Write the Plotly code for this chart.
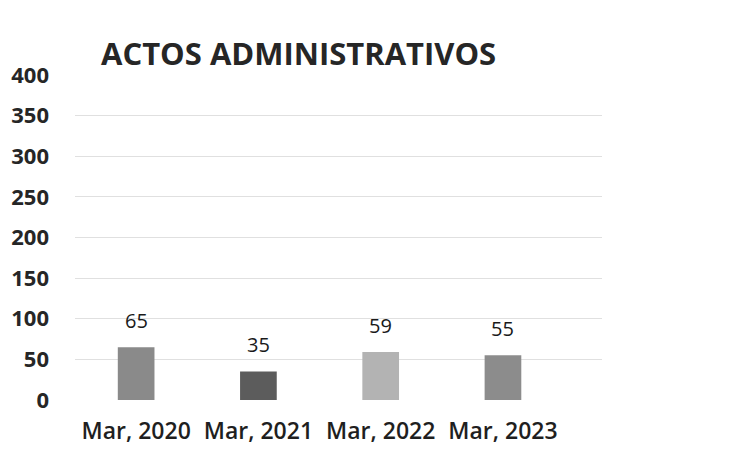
import plotly.graph_objects as go

categories = ["Mar, 2020", "Mar, 2021", "Mar, 2022", "Mar, 2023"]
values = [65, 35, 59, 55]
colors = ["#8a8a8a", "#5c5c5c", "#b3b3b3", "#8c8c8c"]
y_ticks = [0, 50, 100, 150, 200, 250, 300, 350, 400]

# page is offset by the 8px body margin, so figure is 8px smaller
W, H = 741, 461
L, R, T, B = 67, 147, 67, 69
plot_w = W - L - R
plot_h = H - T - B

fig = go.Figure(go.Bar(
    x=list(range(len(categories))), y=values,
    marker=dict(color=colors, line=dict(width=0)),
    width=0.3,
    hoverinfo="skip",
))

for i, v in enumerate(values):
    fig.add_annotation(
        x=i, y=v, text=str(v), showarrow=False,
        xanchor="center", yanchor="middle", yshift=27,
        font=dict(family="Open Sans", size=20, color="#1a1a1a"),
    )

fig.add_annotation(
    text="ACTOS ADMINISTRATIVOS", xref="paper", yref="paper",
    x=(91 - L) / plot_w, y=(T + plot_h - 45) / plot_h,
    xanchor="left", yanchor="middle", showarrow=False,
    font=dict(family="Open Sans", size=31, color="#262626", weight="bold"),
)

fig.update_layout(
    width=W, height=H,
    margin=dict(l=L, r=R, t=T, b=B, autoexpand=False),
    paper_bgcolor="white", plot_bgcolor="white",
    showlegend=False,
)
fig.update_xaxes(
    range=[-0.5, 3.81], automargin=False,
    tickmode="array", tickvals=list(range(len(categories))), ticktext=categories,
    showgrid=False, zeroline=False, showline=False, ticks="",
    ticklabelstandoff=15,
    tickfont=dict(family="Open Sans", size=23, color="#1f1f1f", weight=600),
)
fig.update_yaxes(
    range=[0, 400], tickvals=y_ticks, automargin=False,
    showgrid=True, gridcolor="#e0e0e0", gridwidth=1,
    zeroline=False, showline=False, ticks="",
    ticklabelstandoff=25,
    tickfont=dict(family="Open Sans", size=22, color="#262626", weight="bold"),
)

fig.write_html("out.html")
